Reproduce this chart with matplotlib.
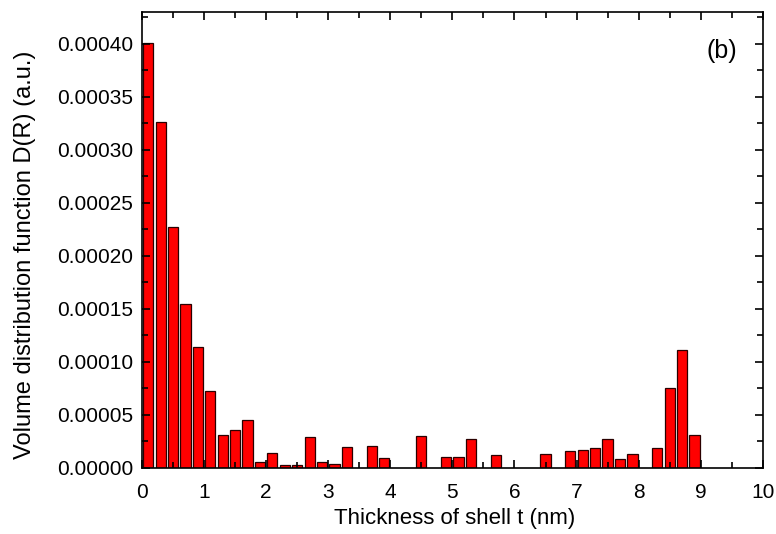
import numpy as np
import matplotlib.pyplot as plt
from matplotlib.ticker import MultipleLocator, FormatStrFormatter

plt.rcParams['font.family'] = ['Liberation Sans', 'DejaVu Sans']

# bin centres (nm) and volume distribution values
thickness = [0.1, 0.3, 0.5, 0.7, 0.9, 1.1, 1.3, 1.5, 1.7, 1.9,
             2.1, 2.3, 2.5, 2.7, 2.9, 3.1, 3.3, 3.7, 3.9,
             4.5, 4.9, 5.1, 5.3, 5.7, 6.5, 6.9, 7.1, 7.3, 7.5,
             7.7, 7.9, 8.3, 8.5, 8.7, 8.9]
volume = [0.000401, 0.000326, 0.000227, 0.000154, 0.000114, 0.0000723,
          0.0000306, 0.0000357, 0.0000455, 0.0000057, 0.0000136,
          0.000003, 0.000003, 0.000029, 0.0000057, 0.0000035, 0.00002,
          0.0000209, 0.0000092, 0.0000297, 0.0000098, 0.0000098,
          0.0000275, 0.0000117, 0.0000133, 0.0000158, 0.000017,
          0.0000187, 0.0000275, 0.0000082, 0.0000133, 0.000019,
          0.0000752, 0.000111, 0.0000313]

fig = plt.figure(figsize=(7.76, 5.34), dpi=100)
ax = fig.add_axes([0.183, 0.124, 0.8, 0.854])

ax.bar(thickness, volume, width=0.165, color='#ff0000',
       edgecolor='#2a0000', linewidth=0.9)

ax.set_xlim(0, 10)
ax.set_ylim(0, 0.00043)
ax.xaxis.set_major_locator(MultipleLocator(1))
ax.xaxis.set_minor_locator(MultipleLocator(0.5))
ax.yaxis.set_major_locator(MultipleLocator(0.00005))
ax.yaxis.set_minor_locator(MultipleLocator(0.000025))
ax.yaxis.set_major_formatter(FormatStrFormatter('%.5f'))
ax.tick_params(which='both', direction='in', top=True, right=True,
               labelsize=15, width=1.2)
ax.tick_params(which='major', length=6)
ax.tick_params(which='minor', length=4)
ax.tick_params(axis='x', which='major', pad=11)
ax.tick_params(axis='y', which='major', pad=6.5)
for s in ax.spines.values():
    s.set_linewidth(1.2)

ax.set_xlabel('Thickness of shell t (nm)', fontsize=16)
ax.set_ylabel('Volume distribution function D(R) (a.u.)', fontsize=17)
ax.xaxis.set_label_coords(0.504, -0.088)
ax.yaxis.set_label_coords(-0.171, 0.466)
ax.text(0.934, 0.915, '(b)', transform=ax.transAxes, fontsize=18,
        ha='center', va='center')

fig.savefig('out.png', dpi=100)
